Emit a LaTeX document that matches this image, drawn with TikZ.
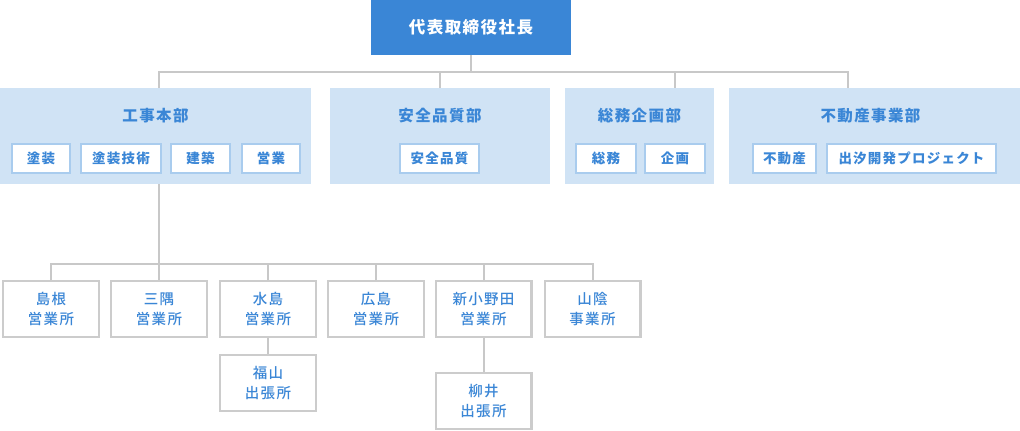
\documentclass[tikz,border=0pt]{standalone}
\usepackage{fontspec}
\setmainfont{Noto Sans CJK JP}[LetterSpace=9]
\newfontfamily\jpmedium{Noto Sans CJK JP Medium}[LetterSpace=9]
\definecolor{ceoblue}{HTML}{3A86D6}
\definecolor{textblue}{HTML}{3A86D6}
\definecolor{deptfill}{HTML}{D0E3F5}
\definecolor{unitline}{HTML}{A9CCEE}
\definecolor{linegray}{HTML}{C8C8C8}
\definecolor{boxgray}{HTML}{CCCCCC}
\begin{document}
\begin{tikzpicture}[x=1pt,y=-1pt,
    link/.style={draw=linegray,line width=2pt},
    ceobox/.style={fill=ceoblue,text=white,inner sep=0pt,minimum width=200pt,minimum height=55pt,
        font=\fontsize{16.5}{20}\selectfont\bfseries},
    deptbox/.style={fill=deptfill,inner sep=0pt,minimum height=96pt},
    depttitle/.style={text=textblue,inner sep=0pt,font=\fontsize{15.5}{18}\selectfont\bfseries},
    unitbox/.style={draw=unitline,line width=2pt,fill=white,text=textblue,inner sep=0pt,
        minimum height=29pt,font=\fontsize{13.5}{16}\selectfont\bfseries},
    officebox/.style={draw=boxgray,line width=2.2pt,fill=white,text=textblue,inner sep=0pt,
        minimum width=95.8pt,minimum height=55.8pt,align=center,font=\fontsize{14.5}{20}\selectfont\jpmedium}]
    \useasboundingbox[fill=white] (0,0) rectangle (1020,431);

    % top
    \node[ceobox] (ceo) at (471,27.5) {代表取締役社長};

    % departments
    \node[deptbox,minimum width=311pt] (kojibu)    at (155.5,136) {};
    \node[deptbox,minimum width=220pt] (anzenbu)   at (440,136)   {};
    \node[deptbox,minimum width=149pt] (somubu)    at (639.5,136) {};
    \node[deptbox,minimum width=291pt] (fudosanbu) at (874.5,136) {};

    \node[depttitle] (kojit)    at (155.5,116) {工事本部};
    \node[depttitle] (anzent)   at (440,116)   {安全品質部};
    \node[depttitle] (somut)    at (639.5,116) {総務企画部};
    \node[depttitle] (fudosant) at (870.5,116) {不動産事業部};

    \node[unitbox,minimum width=58pt]  (toso)     at (41,158.5)    {塗装};
    \node[unitbox,minimum width=80pt]  (gijutsu)  at (121,158.5)   {塗装技術};
    \node[unitbox,minimum width=59pt]  (kenchiku) at (200.5,158.5) {建築};
    \node[unitbox,minimum width=58pt]  (eigyo)    at (271,158.5)   {営業};
    \node[unitbox,minimum width=79pt]  (anzen)    at (439.5,158.5) {安全品質};
    \node[unitbox,minimum width=60pt]  (somu)     at (606,158.5)   {総務};
    \node[unitbox,minimum width=60pt]  (kikaku)   at (675,158.5)   {企画};
    \node[unitbox,minimum width=63pt]  (fudosan)  at (784.5,158.5) {不動産};
    \node[unitbox,minimum width=169pt] (shiose)   at (911.5,158.5) {出汐開発プロジェクト};

    % offices
    \node[officebox] (shimane)   at (51,309)    {島根\\営業所};
    \node[officebox] (misumi)    at (159,309)   {三隅\\営業所};
    \node[officebox] (mizushima) at (268,309)   {水島\\営業所};
    \node[officebox] (hiroshima) at (376,309)   {広島\\営業所};
    \node[officebox] (shinonoda) at (483.5,309) {新小野田\\営業所};
    \node[officebox] (sanin)     at (592.5,309) {山陰\\事業所};
    \node[officebox] (fukuyama)  at (268,383)   {福山\\出張所};
    \node[officebox] (yanai)     at (483.5,401) {柳井\\出張所};

    % connectors
    \coordinate (bus)  at (471,72);
    \coordinate (bus2) at (51,264);
    \coordinate (fudosan drop) at (848,88);
    \draw[link] (ceo.south) -- (bus);
    \draw[link] (kojibu.north -| misumi) |- (bus) -| (fudosan drop);
    \draw[link] (anzenbu.north) -- (anzenbu.north |- bus);
    \draw[link] (somubu.north -| kikaku) -- (kikaku |- bus);

    \draw[link] (kojibu.south -| misumi) -- (misumi.north);
    \draw[link] (shimane.north) |- (bus2) -| (sanin.north);
    \foreach \n in {mizushima,hiroshima,shinonoda}
        \draw[link] (\n.north) -- (\n.north |- bus2);
    \draw[link] (mizushima) -- (fukuyama);
    \draw[link] (shinonoda) -- (yanai);
\end{tikzpicture}
\end{document}
